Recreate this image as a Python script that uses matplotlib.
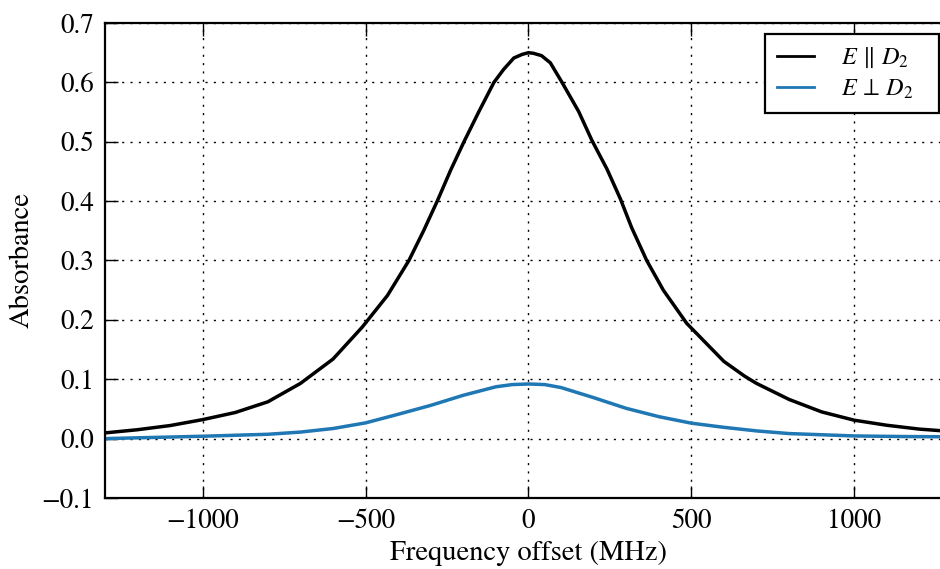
import numpy as np
import matplotlib
matplotlib.use("Agg")
import matplotlib.pyplot as plt

# values (frequency offset in MHz, absorbance)
freq_par = [-1300, -1200, -1100, -1000, -900, -800, -700, -600, -510, -433,
            -367, -322, -280, -239, -198, -152, -106, -76, -45, -20,
            0, 15, 40, 67, 103, 154, 195, 241, 282, 317,
            363, 414, 486, 600, 664, 700, 800, 900, 1000, 1100, 1200, 1300]
abs_par = [0.0096, 0.015, 0.022, 0.032, 0.044, 0.062, 0.093, 0.134, 0.188, 0.241,
           0.300, 0.350, 0.400, 0.452, 0.500, 0.551, 0.600, 0.622, 0.641, 0.647,
           0.650, 0.649, 0.645, 0.633, 0.600, 0.551, 0.502, 0.454, 0.404, 0.355,
           0.300, 0.250, 0.194, 0.130, 0.105, 0.093, 0.066, 0.045, 0.031, 0.0225, 0.016, 0.012]

freq_perp = [-1300, -1150, -1000, -800, -700, -600, -500, -400, -300, -200,
             -100, -50, 0, 50, 100, 200, 300, 400, 500, 600,
             700, 800, 1000, 1150, 1300]
abs_perp = [0.000, 0.002, 0.004, 0.0073, 0.011, 0.017, 0.0265, 0.041, 0.056, 0.073,
            0.0873, 0.091, 0.092, 0.091, 0.086, 0.069, 0.051, 0.037, 0.026, 0.019,
            0.013, 0.0085, 0.0045, 0.0035, 0.003]

labels = [r'$E\,\parallel\,D_2$' + '   ', r'$E\,\perp\,D_2$' + '   ']

plt.rcParams['font.family'] = 'STIXGeneral'
plt.rcParams['mathtext.fontset'] = 'stix'
plt.rcParams['font.size'] = 19.5

fig = plt.figure(figsize=(9.4, 5.69), dpi=100)
ax = fig.add_axes([0.1117, 0.1248, 0.901, 0.8348])

ax.plot(freq_par, abs_par, color='black', lw=2.5, label=labels[0])
ax.plot(freq_perp, abs_perp, color='#1f77b4', lw=2.5, label=labels[1])

ax.set_xlim(-1300, 1300)
ax.set_ylim(-0.1, 0.7)
ax.set_xticks([-1000, -500, 0, 500, 1000])
ax.set_yticks([-0.1, 0.0, 0.1, 0.2, 0.3, 0.4, 0.5, 0.6, 0.7])
ax.tick_params(direction='in', length=9, width=1, top=True, right=True, pad=8)
ax.grid(True, color='black', lw=1, linestyle=(0, (1.5, 4.5)))
for s in ax.spines.values():
    s.set_linewidth(1.6)

ax.set_xlabel('Frequency offset (MHz)', fontsize=20.5, labelpad=5)
ax.set_ylabel('Absorbance', fontsize=20.5, labelpad=5)

leg = ax.legend(loc='upper right', bbox_to_anchor=(0.9847, 0.9768), borderaxespad=0,
                fancybox=False, framealpha=1, edgecolor='black',
                handlelength=1.53, handletextpad=1.1, fontsize=17.5,
                borderpad=0.5, labelspacing=0.3)
leg.get_frame().set_linewidth(1.6)
for h in leg.get_lines():
    h.set_linewidth(2)

fig.savefig('out.png', dpi=100)
